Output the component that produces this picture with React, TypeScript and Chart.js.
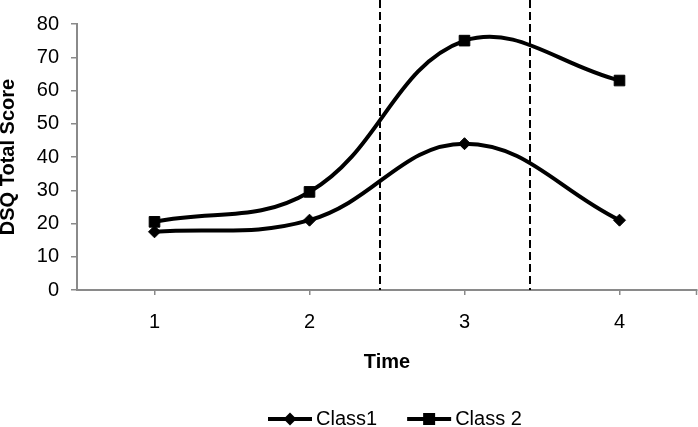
import React, { useEffect, useRef } from "react";
import { Chart, registerables } from "chart.js";

Chart.register(...registerables);

// ---- data ----
const timeLabels = ["1", "2", "3", "4"];
const class1Scores = [17.5, 21, 44, 21];
const class2Scores = [20.5, 29.5, 75, 63];
const seriesNames = ["Class1", "Class 2"];
const seriesMarkers = ["rectRot", "rect"];
const yAxisRange = [0, 80];
const yAxisStep = 10;
const phaseBoundaries = [2.455, 3.423]; // in time units (between time points)
const xAxisTitle = "Time";
const yAxisTitle = "DSQ Total Score";

const FONT = "'Liberation Sans', Arial, Helvetica, sans-serif";
const AXIS_GRAY = "#8a8a8a";

function drawMarker(ctx: CanvasRenderingContext2D, style: string, x: number, y: number) {
  ctx.beginPath();
  if (style === "rectRot") {
    const r = 6.5;
    ctx.moveTo(x, y - r);
    ctx.lineTo(x + r, y);
    ctx.lineTo(x, y + r);
    ctx.lineTo(x - r, y);
    ctx.closePath();
  } else {
    const h = 6;
    ctx.rect(x - h, y - h, 2 * h, 2 * h);
  }
  ctx.fill();
}

const overlayPlugin = {
  id: "overlay",
  beforeDatasetsDraw(chart: any) {
    const ctx = chart.ctx as CanvasRenderingContext2D;
    const xs = chart.scales.x;
    const area = chart.chartArea;
    ctx.save();
    ctx.strokeStyle = "#000";
    ctx.lineWidth = 2;
    ctx.setLineDash([8, 4]);
    phaseBoundaries.forEach((t) => {
      const px = Math.round(xs.getPixelForValue(t - 1));
      ctx.beginPath();
      ctx.moveTo(px, 0);
      ctx.lineTo(px, area.bottom);
      ctx.stroke();
    });
    ctx.setLineDash([]);
    // tick at right end of x axis
    ctx.strokeStyle = AXIS_GRAY;
    ctx.lineWidth = 1.5;
    ctx.beginPath();
    ctx.moveTo(area.right - 0.5, area.bottom);
    ctx.lineTo(area.right - 0.5, area.bottom + 5);
    ctx.stroke();
    ctx.restore();
  },
  afterDraw(chart: any) {
    const ctx = chart.ctx as CanvasRenderingContext2D;
    ctx.save();
    ctx.font = `20px ${FONT}`;
    ctx.textBaseline = "middle";
    ctx.textAlign = "left";
    const y = 419;
    let x = 268;
    chart.data.datasets.forEach((ds: any, i: number) => {
      ctx.strokeStyle = "#000";
      ctx.fillStyle = "#000";
      ctx.lineWidth = 4;
      ctx.beginPath();
      ctx.moveTo(x, y);
      ctx.lineTo(x + 44, y);
      ctx.stroke();
      drawMarker(ctx, seriesMarkers[i], x + 22, y);
      ctx.fillText(ds.label, x + 48, y);
      x += 48 + ctx.measureText(ds.label).width + 30;
    });
    ctx.restore();
  },
};

export default function App() {
  const canvasRef = useRef<HTMLCanvasElement | null>(null);

  useEffect(() => {
    if (!canvasRef.current) return;
    Chart.defaults.font.family = FONT;
    Chart.defaults.color = "#000";
    const chart = new Chart(canvasRef.current, {
      type: "line",
      data: {
        labels: timeLabels,
        datasets: [class1Scores, class2Scores].map((values, i) => ({
          label: seriesNames[i],
          data: values,
          borderColor: "#000",
          backgroundColor: "#000",
          borderWidth: 4,
          tension: 0.4,
          fill: false,
          pointStyle: seriesMarkers[i] as any,
          pointRadius: i === 0 ? 6 : 7.5,
          pointBorderWidth: 1,
          pointBackgroundColor: "#000",
          pointBorderColor: "#000",
        })),
      },
      options: {
        responsive: false,
        animation: false,
        devicePixelRatio: 1,
        events: [],
        layout: { autoPadding: false, padding: { left: 0, top: 18.5, right: 1, bottom: 37 } },
        plugins: {
          legend: { display: false },
          tooltip: { enabled: false },
        },
        scales: {
          x: {
            type: "category",
            offset: true,
            afterFit: (s: any) => {
              s.height = 100;
              s.paddingLeft = 0;
              s.paddingRight = 0;
            },
            grid: {
              offset: false,
              drawOnChartArea: false,
              drawTicks: true,
              tickLength: 5,
              color: AXIS_GRAY,
              lineWidth: 1.5,
            },
            border: { display: true, color: AXIS_GRAY, width: 2 },
            ticks: { font: { size: 20 }, color: "#000", padding: 15 },
            title: {
              display: true,
              text: xAxisTitle,
              font: { size: 20, weight: "bold" },
              color: "#000",
              padding: { top: 0, bottom: 16 },
            },
          },
          y: {
            min: yAxisRange[0],
            max: yAxisRange[1],
            afterFit: (s: any) => {
              s.width = 77;
            },
            grid: {
              drawOnChartArea: false,
              drawTicks: true,
              tickLength: 6,
              color: AXIS_GRAY,
              lineWidth: 1.5,
            },
            border: { display: true, color: AXIS_GRAY, width: 2 },
            ticks: { stepSize: yAxisStep, font: { size: 20 }, color: "#000", padding: 12 },
            title: {
              display: true,
              text: yAxisTitle,
              font: { size: 20, weight: "bold", lineHeight: 0.8 },
              color: "#000",
              padding: { top: 0, bottom: 0 },
            },
          },
        },
      },
      plugins: [overlayPlugin],
    });
    return () => chart.destroy();
  }, []);

  return (
    <div style={{ position: "absolute", left: 0, top: 0, width: 698, height: 427, background: "#fff" }}>
      <canvas ref={canvasRef} width={698} height={427} />
    </div>
  );
}
